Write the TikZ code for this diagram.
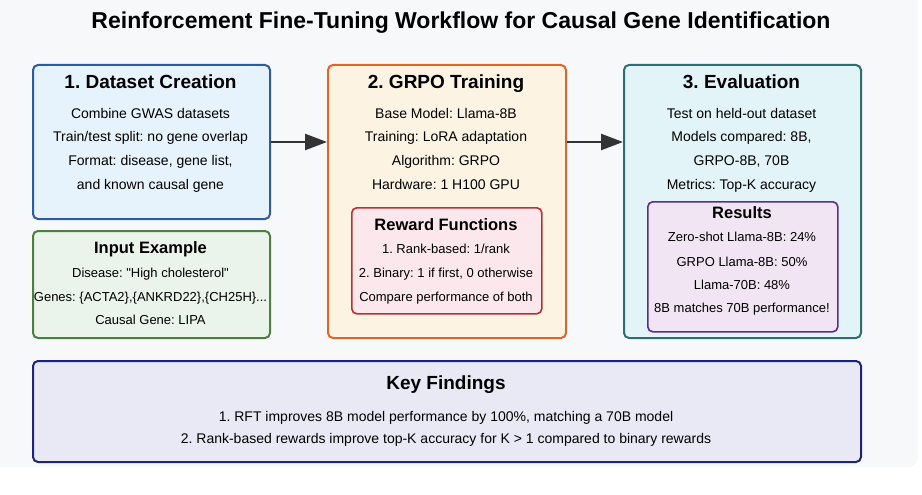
\documentclass[tikz,border=0pt]{standalone}
\usepackage{fontspec}
\setmainfont{Liberation Sans}
\newfontfamily\plainq{Liberation Sans}
\usetikzlibrary{arrows.meta}
\definecolor{bgc}{HTML}{F7F8FA}
\definecolor{b1d}{HTML}{2C5C9E}\definecolor{b1f}{HTML}{E6F2FC}
\definecolor{b2d}{HTML}{E0652C}\definecolor{b2f}{HTML}{FDF3E3}
\definecolor{b3d}{HTML}{2F6E6E}\definecolor{b3f}{HTML}{E2F4F8}
\definecolor{ind}{HTML}{4C8042}\definecolor{inf}{HTML}{EBF4EA}
\definecolor{rwd}{HTML}{B8322F}\definecolor{rwf}{HTML}{FCE8EC}
\definecolor{rsd}{HTML}{5B2D8E}\definecolor{rsf}{HTML}{F1E4F3}
\definecolor{kfd}{HTML}{1F237A}\definecolor{kff}{HTML}{E9E9F5}
\definecolor{arc}{HTML}{333333}
\frenchspacing
\begin{document}
\begin{tikzpicture}[x=1pt,y=-1pt,
  box/.style={draw, rounded corners=5pt, line width=2pt, anchor=north west, inner sep=0pt},
  ibox/.style={draw, rounded corners=5pt, line width=1.6pt, anchor=north west, inner sep=0pt},
  txt/.style={anchor=base, inner sep=0pt},
  ttl/.style={txt, font=\bfseries\fontsize{23}{27}\selectfont},
  hA/.style={txt, font=\bfseries\fontsize{19}{22}\selectfont},
  hB/.style={txt, font=\bfseries\fontsize{16.5}{19}\selectfont},
  tA/.style={txt, font=\fontsize{14}{16}\selectfont},
  tB/.style={txt, font=\fontsize{13}{15}\selectfont},
  arr/.style={draw=arc, line width=2.5pt, -{Triangle[length=22pt,width=16pt]}}]
\useasboundingbox (0,0) rectangle (922,495);
\fill[white] (0,0) rectangle (922,495);
\fill[bgc, rounded corners=10pt] (-20,-20) rectangle (918,467);

\node[ttl] (title) at (461,28.2) {Reinforcement Fine-Tuning Workflow for Causal Gene Identification};

% boxes
\node[box, draw=b1d, fill=b1f, minimum width=237pt, minimum height=154pt] (b1) at (32,64) {};
\node[box, draw=ind, fill=inf, minimum width=237pt, minimum height=107pt] (in) at (32,230) {};
\node[box, draw=b2d, fill=b2f, minimum width=238pt, minimum height=273pt] (b2) at (327,64) {};
\node[ibox, draw=rwd, fill=rwf, minimum width=190pt, minimum height=106pt] (rw) at (351,207) {};
\node[box, draw=b3d, fill=b3f, minimum width=237pt, minimum height=273pt] (b3) at (623,64) {};
\node[ibox, draw=rsd, fill=rsf, minimum width=190pt, minimum height=130pt] (rs) at (647,201) {};
\node[box, draw=kfd, fill=kff, minimum width=828pt, minimum height=101pt] (kf) at (32,360) {};

% arrows
\draw[arr] (b1.east) -- (b1.east -| b2.west);
\draw[arr] (b2.east |- b1.east) -- (b3.west |- b1.east);

% box 1
\node[hA] (h1) at (150.5,88.8) {1. Dataset Creation};
\node[tA] (l11) at (150.5,118) {Combine GWAS datasets};
\node[tA] (l12) at (150.5,142) {Train/test split: no gene overlap};
\node[tA] (l13) at (150.5,165) {Format: disease, gene list,};
\node[tA] (l14) at (150.5,189) {and known causal gene};

% input example
\node[hB] (hi) at (150.5,253.9) {Input Example};
\node[tB] (li1) at (150.5,277.6) {Disease: {\plainq"}High cholesterol{\plainq"}};
\node[tB] (li2) at (150.5,301.6) {Genes: \{ACTA2\},\{ANKRD22\},\{CH25H\}...};
\node[tB] (li3) at (150.5,324.6) {Causal Gene: LIPA};

% box 2
\node[hA] (h2) at (446,88.8) {2. GRPO Training};
\node[tA] (l21) at (446,118) {Base Model: Llama-8B};
\node[tA] (l22) at (446,142) {Training: LoRA adaptation};
\node[tA] (l23) at (446,165) {Algorithm: GRPO};
\node[tA] (l24) at (446,189) {Hardware: 1 H100 GPU};

\node[hB] (hr) at (446,230.9) {Reward Functions};
\node[tB] (lr1) at (446,253.6) {1. Rank-based: 1/rank};
\node[tB] (lr2) at (446,277.6) {2. Binary: 1 if first, 0 otherwise};
\node[tB] (lr3) at (446,301.6) {Compare performance of both};

% box 3
\node[hA] (h3) at (741.5,88.8) {3. Evaluation};
\node[tA] (l31) at (741.5,118) {Test on held-out dataset};
\node[tA] (l32) at (741.5,142) {Models compared: 8B,};
\node[tA] (l33) at (741.5,165) {GRPO-8B, 70B};
\node[tA] (l34) at (741.5,189) {Metrics: Top-K accuracy};

\node[hB] (hs) at (742,218.9) {Results};
\node[tB] (ls1) at (742,241.6) {Zero-shot Llama-8B: 24\%};
\node[tB] (ls2) at (742,266.6) {GRPO Llama-8B: 50\%};
\node[tB] (ls3) at (742,289.6) {Llama-70B: 48\%};
\node[tB] (ls4) at (742,312.6) {8B matches 70B performance!};

% key findings
\node[hA] (hk) at (446,389.8) {Key Findings};
\node[tA] (lk1) at (446,421) {1. RFT improves 8B model performance by 100\%, matching a 70B model};
\node[tA] (lk2) at (446,443) {2. Rank-based rewards improve top-K accuracy for K > 1 compared to binary rewards};
\end{tikzpicture}
\end{document}
